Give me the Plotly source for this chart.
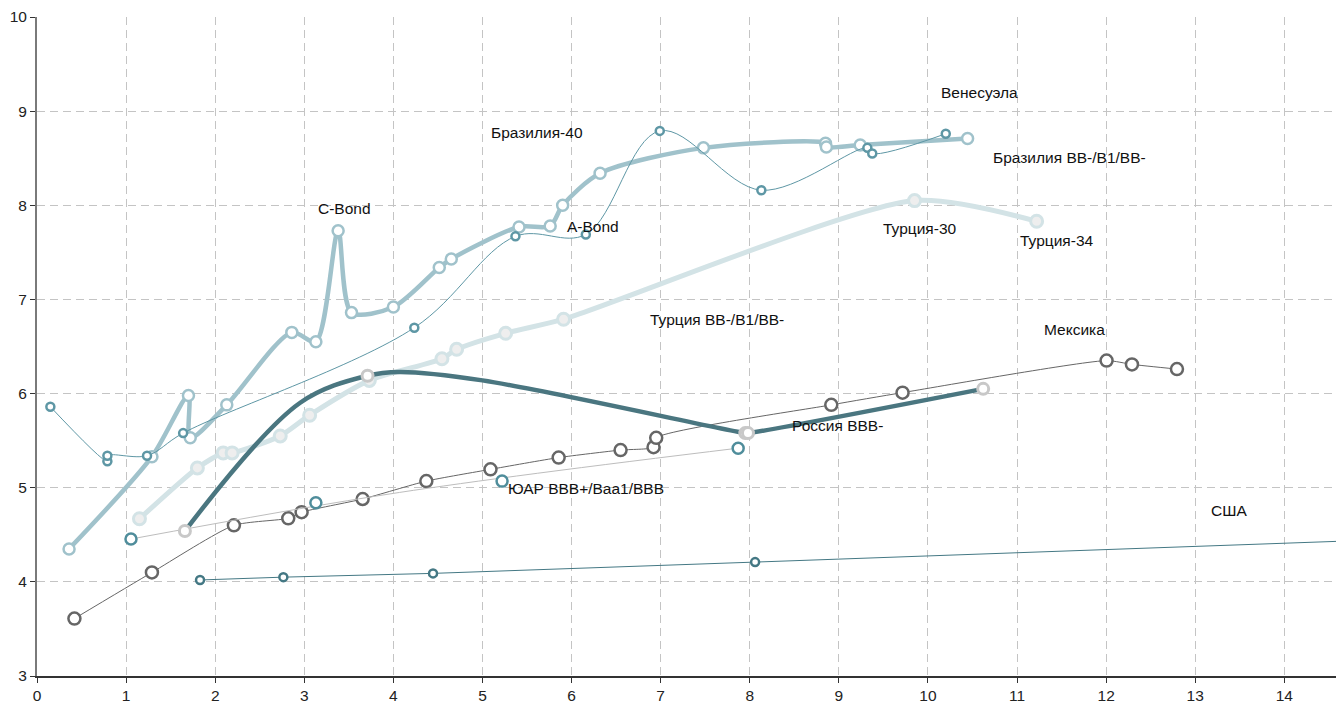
import plotly.graph_objects as go

# ---------------- data ----------------
usa_x = [1.83, 2.765, 4.445, 8.06, 30.0]
usa_y = [4.02, 4.05, 4.09, 4.21, 4.95]

mex_x = [0.42, 1.29, 2.21, 2.82, 2.97, 3.655, 4.37, 5.09, 5.855, 6.55, 6.92, 6.95, 8.915, 9.715, 12.005, 12.29, 12.795]
mex_y = [3.61, 4.10, 4.60, 4.675, 4.74, 4.88, 5.07, 5.195, 5.32, 5.40, 5.43, 5.53, 5.88, 6.01, 6.35, 6.31, 6.26]

saf_curve_x = [1.055, 4.07, 7.87]
saf_curve_y = [4.455, 4.95, 5.42]
saf_x = [1.055, 3.13, 5.22, 7.87]
saf_y = [4.455, 4.84, 5.07, 5.42]

tur_x = [1.15, 1.80, 2.09, 2.19, 2.73, 3.06, 3.73, 4.545, 4.71, 5.26, 5.91, 9.85, 11.22]
tur_y = [4.67, 5.21, 5.37, 5.37, 5.55, 5.77, 6.14, 6.37, 6.47, 6.64, 6.79, 8.05, 7.83]

bra_x = [0.36, 1.29, 1.70, 1.72, 2.13, 2.86, 3.13, 3.38, 3.53, 4.00, 4.515, 4.65, 5.41, 5.76, 5.90, 6.32, 7.48, 8.85, 8.86, 9.24, 10.445]
bra_y = [4.35, 5.33, 5.98, 5.53, 5.88, 6.65, 6.55, 7.73, 6.86, 6.92, 7.34, 7.43, 7.77, 7.78, 8.00, 8.34, 8.61, 8.66, 8.62, 8.64, 8.71]

ven_x = [0.15, 0.79, 0.79, 1.235, 1.64, 4.235, 5.37, 6.16, 6.99, 8.13, 9.32, 9.375, 10.2]
ven_y = [5.86, 5.28, 5.34, 5.34, 5.58, 6.70, 7.67, 7.69, 8.79, 8.16, 8.61, 8.55, 8.76]

# Russia rating curve and Russia bonds (markers)
rus_curve_x = [1.66, 2.95, 3.71, 4.07, 5.0, 7.95, 7.98, 10.62]
rus_curve_y = [4.54, 5.90, 6.19, 6.23, 6.14, 5.58, 5.58, 6.05]
rus_x = [1.66, 3.71, 7.95, 7.98, 10.62]
rus_y = [4.54, 6.19, 5.58, 5.58, 6.05]

label_texts = ["C-Bond", "Бразилия-40", "A-Bond", "Венесуэла", "Бразилия BB-/B1/BB-",
               "Турция-30", "Турция-34", "Мексика", "Турция BB-/B1/BB-", "Россия BBB-",
               "ЮАР BBB+/Baa1/BBB", "США"]
label_x = [3.446, 5.617, 6.244, 10.584, 11.588, 9.91, 11.448, 11.65, 7.632, 8.99, 6.162, 13.378]
label_y = [7.967, 8.775, 7.78, 9.195, 8.505, 7.755, 7.628, 6.682, 6.789, 5.659, 4.989, 4.756]

x_ticks = list(range(0, 15))
y_ticks = list(range(3, 11))

# ---------------- figure ----------------
FONT = "Liberation Sans, Arial, sans-serif"
fig = go.Figure()

fig.add_trace(go.Scatter(x=usa_x, y=usa_y, mode="lines+markers",
                         line=dict(color="#447884", width=1),
                         marker=dict(size=8, color="white", line=dict(color="#447884", width=2.5))))

fig.add_trace(go.Scatter(x=mex_x, y=mex_y, mode="lines+markers",
                         line=dict(color="#666666", width=1, shape="spline", smoothing=0.6),
                         marker=dict(size=12, color="white", line=dict(color="#666666", width=2.5))))

fig.add_trace(go.Scatter(x=saf_curve_x, y=saf_curve_y, mode="lines",
                         line=dict(color="#bdbdbd", width=1, shape="spline", smoothing=1)))
fig.add_trace(go.Scatter(x=saf_x, y=saf_y, mode="markers",
                         marker=dict(size=11, color="white", line=dict(color="#4f8d9b", width=2.5))))

fig.add_trace(go.Scatter(x=tur_x, y=tur_y, mode="lines+markers",
                         line=dict(color="#d3e3e6", width=5, shape="spline", smoothing=0.7),
                         marker=dict(size=12, color="#eeeeee", line=dict(color="#d3e3e6", width=3))))

fig.add_trace(go.Scatter(x=bra_x, y=bra_y, mode="lines+markers",
                         line=dict(color="#a0c2cb", width=4.5, shape="spline", smoothing=0.8),
                         marker=dict(size=11, color="white", line=dict(color="#a0c2cb", width=2.5))))

fig.add_trace(go.Scatter(x=ven_x, y=ven_y, mode="lines+markers",
                         line=dict(color="#5e97a5", width=1, shape="spline", smoothing=1),
                         marker=dict(size=8, color="white", line=dict(color="#5e97a5", width=2.5))))

fig.add_trace(go.Scatter(x=rus_curve_x, y=rus_curve_y, mode="lines",
                         line=dict(color="#4a7680", width=4.5, shape="spline", smoothing=1)))
fig.add_trace(go.Scatter(x=rus_x, y=rus_y, mode="markers",
                         marker=dict(size=11, color="white", line=dict(color="#c8c8c8", width=3))))

for t, lx, ly in zip(label_texts, label_x, label_y):
    fig.add_annotation(x=lx, y=ly, text=t, showarrow=False, xanchor="center", yanchor="middle",
                       font=dict(family=FONT, size=15.5, color="#111111"))

fig.update_layout(
    width=1337, height=706, autosize=False,
    margin=dict(l=37, r=1, t=17, b=30),
    paper_bgcolor="white", plot_bgcolor="white",
    showlegend=False,
    font=dict(family=FONT, size=15.5, color="#222222"),
)
fig.update_xaxes(range=[0, 14.58], tickvals=x_ticks, showgrid=True, gridcolor="#c4c4c4",
                 griddash="8px,5px", gridwidth=1, zeroline=False,
                 showline=True, linecolor="#333333", linewidth=1.5,
                 ticks="outside", ticklen=5, tickcolor="#333333")
fig.update_yaxes(range=[3, 10], tickvals=y_ticks, showgrid=True, gridcolor="#c4c4c4",
                 griddash="8px,5px", gridwidth=1, zeroline=False,
                 showline=True, linecolor="#7a7a7a", linewidth=2,
                 ticks="outside", ticklen=5, tickcolor="#333333")

fig.write_html("out.html", config={"displayModeBar": False},
               post_script="document.body.style.margin='0';document.body.style.overflow='hidden';")
